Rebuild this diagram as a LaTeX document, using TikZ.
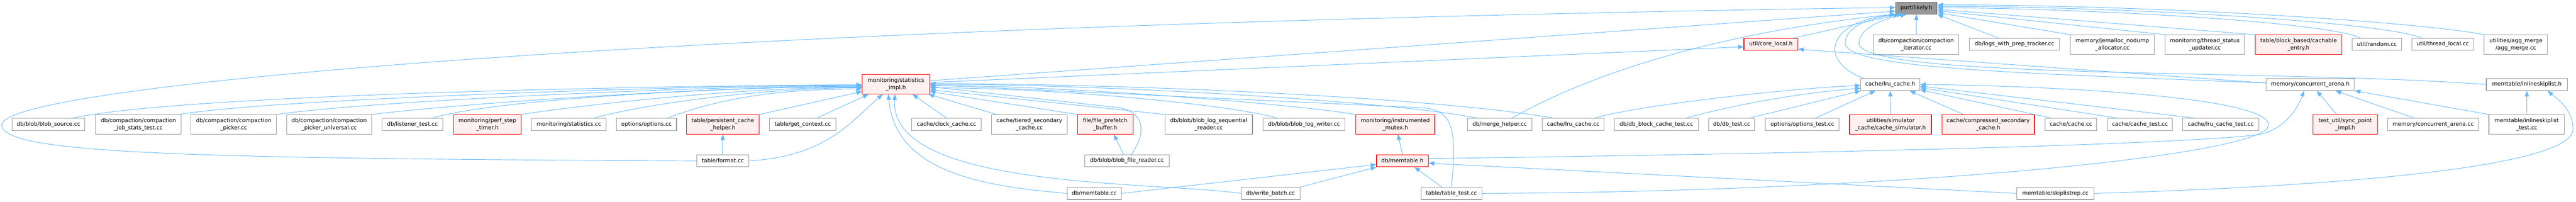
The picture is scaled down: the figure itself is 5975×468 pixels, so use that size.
\documentclass[tikz,border=0pt]{standalone}
\usepackage{fontspec}
\newfontfamily\graphfont{DejaVu Sans}
\usetikzlibrary{arrows.meta}
\definecolor{edgeblue}{HTML}{63B8FF}
\definecolor{nodegray}{HTML}{999999}
\definecolor{rootgray}{HTML}{666666}
\definecolor{redline}{HTML}{FF0000}
\definecolor{redfill}{HTML}{FFF0F0}
\tikzset{filebox/.style={draw=nodegray,fill=white,line width=1.3pt,inner sep=2pt,minimum height=28pt,align=center,font=\graphfont\fontsize{12.8}{17}\selectfont}}
\tikzset{twoline/.style={minimum height=45pt}}
\tikzset{redbox/.style={filebox,draw=redline,fill=redfill}}
\tikzset{rootbox/.style={filebox,draw=rootgray,fill=nodegray}}
\tikzset{incl/.style={draw=edgeblue,line width=1.1pt,-{Triangle[length=13pt,width=10pt]}}}
\begin{document}
\begin{tikzpicture}[x=1pt,y=-1pt]
    \useasboundingbox (0,0) rectangle (5975,468);
    \node[rootbox,minimum width=96pt] (likely) at (4445,19) {port/likely.h};
    \node[redbox,minimum width=125pt] (corelocal) at (4107.5,103) {util/core\_local.h};
    \node[filebox,twoline,minimum width=197pt] (compiter) at (4444.5,103.5) {db/compaction/compaction\\\_iterator.cc};
    \node[filebox,minimum width=209pt] (logsprep) at (4672.5,103) {db/logs\_with\_prep\_tracker.cc};
    \node[filebox,twoline,minimum width=195pt] (jemalloc) at (4899.5,103.5) {memory/jemalloc\_nodump\\\_allocator.cc};
    \node[filebox,twoline,minimum width=184pt] (threadstat) at (5114,103.5) {monitoring/thread\_status\\\_updater.cc};
    \node[redbox,twoline,minimum width=201pt] (cachable) at (5331.5,103.5) {table/block\_based/cachable\\\_entry.h};
    \node[filebox,minimum width=114pt] (random) at (5513,103) {util/random.cc};
    \node[filebox,minimum width=144pt] (threadlocal) at (5666,103) {util/thread\_local.cc};
    \node[filebox,twoline,minimum width=147pt] (aggmerge) at (5835.5,103.5) {utilities/agg\_merge\\/agg\_merge.cc};
    \node[redbox,twoline,minimum width=156pt] (statimpl) at (2078,195.5) {monitoring/statistics\\\_impl.h};
    \node[filebox,minimum width=137pt] (lruh) at (4384.5,196) {cache/lru\_cache.h};
    \node[filebox,minimum width=205pt] (arenah) at (5358.5,196) {memory/concurrent\_arena.h};
    \node[filebox,minimum width=188pt] (inlineh) at (5861,196) {memtable/inlineskiplist.h};
    \node[filebox,minimum width=169pt] (blobsrc) at (112.5,288.5) {db/blob/blob\_source.cc};
    \node[filebox,twoline,minimum width=198pt] (jobstats) at (321,288.5) {db/compaction/compaction\\\_job\_stats\_test.cc};
    \node[filebox,twoline,minimum width=198pt] (picker) at (542,288.5) {db/compaction/compaction\\\_picker.cc};
    \node[filebox,twoline,minimum width=197pt] (pickeruni) at (763.5,288.5) {db/compaction/compaction\\\_picker\_universal.cc};
    \node[filebox,minimum width=141pt] (listener) at (956.5,288.5) {db/listener\_test.cc};
    \node[redbox,twoline,minimum width=157pt] (perfstep) at (1130.5,288.5) {monitoring/perf\_step\\\_timer.h};
    \node[filebox,minimum width=173pt] (statscc) at (1319.5,288.5) {monitoring/statistics.cc};
    \node[filebox,minimum width=139pt] (optionscc) at (1499.5,288.5) {options/options.cc};
    \node[redbox,twoline,minimum width=169pt] (pcache) at (1676.5,288.5) {table/persistent\_cache\\\_helper.h};
    \node[filebox,minimum width=154pt] (getctx) at (1862,288.5) {table/get\_context.cc};
    \node[filebox,minimum width=161pt] (clock) at (2195.5,288.5) {cache/clock\_cache.cc};
    \node[filebox,twoline,minimum width=175pt] (tiered) at (2387.5,288.5) {cache/tiered\_secondary\\\_cache.cc};
    \node[redbox,twoline,minimum width=129pt] (prefetch) at (2563.5,288.5) {file/file\_prefetch\\\_buffer.h};
    \node[filebox,twoline,minimum width=203pt] (seqreader) at (2803.5,288.5) {db/blob/blob\_log\_sequential\\\_reader.cc};
    \node[filebox,minimum width=191pt] (logwriter) at (3024.5,288.5) {db/blob/blob\_log\_writer.cc};
    \node[redbox,twoline,minimum width=183pt] (mutex) at (3236.5,288.5) {monitoring/instrumented\\\_mutex.h};
    \node[filebox,minimum width=149pt] (mergehelper) at (3478.5,288.5) {db/merge\_helper.cc};
    \node[filebox,minimum width=144pt] (lrucc) at (3649,288.5) {cache/lru\_cache.cc};
    \node[filebox,minimum width=194pt] (blockcachetest) at (3842,288.5) {db/db\_block\_cache\_test.cc};
    \node[filebox,minimum width=107pt] (dbtest) at (4016.5,288.5) {db/db\_test.cc};
    \node[filebox,minimum width=171pt] (optionstest) at (4180.5,288.5) {options/options\_test.cc};
    \node[redbox,twoline,minimum width=190pt] (simulator) at (4385,288.5) {utilities/simulator\\\_cache/cache\_simulator.h};
    \node[redbox,twoline,minimum width=215pt] (compressed) at (4611.5,288.5) {cache/compressed\_secondary\\\_cache.h};
    \node[filebox,minimum width=119pt] (cachecc) at (4803.5,288.5) {cache/cache.cc};
    \node[filebox,minimum width=151pt] (cachetest) at (4963.5,288.5) {cache/cache\_test.cc};
    \node[filebox,minimum width=176pt] (lrutest) at (5151,288.5) {cache/lru\_cache\_test.cc};
    \node[redbox,twoline,minimum width=149pt] (syncpoint) at (5439.5,288.5) {test\_util/sync\_point\\\_impl.h};
    \node[filebox,minimum width=211pt] (arenacc) at (5643.5,288.5) {memory/concurrent\_arena.cc};
    \node[filebox,twoline,minimum width=175pt] (inlinetest) at (5860.5,288.5) {memtable/inlineskiplist\\\_test.cc};
    \node[filebox,minimum width=121pt] (format) at (1676.5,373) {table/format.cc};
    \node[filebox,minimum width=196pt] (blobreader) at (2614,373) {db/blob/blob\_file\_reader.cc};
    \node[redbox,minimum width=120pt] (memtableh) at (3253,373) {db/memtable.h};
    \node[filebox,minimum width=126pt] (memtablecc) at (2538,448.5) {db/memtable.cc};
    \node[filebox,minimum width=136pt] (writebatch) at (2947,448.5) {db/write\_batch.cc};
    \node[filebox,minimum width=141pt] (tabletest) at (3366.5,448.5) {table/table\_test.cc};
    \node[filebox,minimum width=179pt] (skiplistrep) at (4767.5,448.5) {memtable/skiplistrep.cc};
    \coordinate (loopturn) at (4,290);
    \draw[incl] ([xshift=-30pt]blobsrc.north east) .. controls +(280,-60) and +(-290,0) .. (statimpl.181);
    \draw[incl] ([xshift=-5pt]jobstats.north east) .. controls +(250,-40) and +(-300,0) .. (statimpl.181);
    \draw[incl] (picker.north east) .. controls +(250,-35) and +(-300,0) .. (statimpl.182);
    \draw[incl] (pickeruni.north east) .. controls +(250,-30) and +(-300,0) .. (statimpl.183);
    \draw[incl] ([xshift=-25pt]listener.north east) .. controls +(150,-45) and +(-300,0) .. (statimpl.184);
    \draw[incl] (perfstep.north east) .. controls +(200,-30) and +(-250,0) .. (statimpl.185);
    \draw[incl] ([xshift=-30pt]statscc.north east) .. controls +(150,-40) and +(-200,0) .. (statimpl.186);
    \draw[incl] ([xshift=-22pt]optionscc.north east) .. controls +(120,-45) and +(-200,0) .. (statimpl.188);
    \draw[incl] (pcache.north east) -- (statimpl.192);
    \draw[incl] ([xshift=-45pt]getctx.north east) -- (statimpl.200);
    \draw[incl] (format.east) .. controls +(180,-10) and +(-70,60) .. (statimpl.217);
    \draw[incl] (format.north) -- (pcache.south);
    \draw[incl] (format.west) .. controls (400,368) and (6,355) .. (loopturn) .. controls (0,200) and (1500,60) .. (likely.178);
    \draw[incl] (memtablecc.west) to[out=175,in=-85] (statimpl.233);
    \draw[incl] (writebatch.west) .. controls (2680,420) and (2060,440) .. (statimpl.265);
    \draw[incl] (clock.north) -- (statimpl.-31);
    \draw[incl] ([xshift=12pt]tiered.north west) -- (statimpl.-17);
    \draw[incl] (prefetch.north west) -- (statimpl.-12);
    \draw[incl] (seqreader.north west) -- (statimpl.-9);
    \draw[incl] ([xshift=34pt]logwriter.north west) .. controls +(-100,-30) and +(300,0) .. (statimpl.-6);
    \draw[incl] ([xshift=-8pt]blobreader.north) -- ([xshift=20pt]prefetch.south);
    \draw[incl] ([xshift=10pt]blobreader.north) .. controls (2665,300) and (2650,252) .. (2580,248) -- (statimpl.-4);
    \draw[incl] (mutex.north west) .. controls +(-150,-25) and +(300,0) .. (statimpl.-2);
    \draw[incl] ([xshift=23pt]mergehelper.north west) .. controls +(-200,-40) and +(400,0) .. (statimpl.0);
    \draw[incl] ([xshift=26pt]lrucc.north west) .. controls +(-250,-45) and +(500,0) .. (statimpl.1);
    \draw[incl] (tabletest.north) .. controls (3380,300) and (3370,255) .. (3300,250) -- (statimpl.-1);
    \draw[incl] (statimpl.6) -- (likely.188);
    \draw[incl] (statimpl.3) -- (corelocal.185);
    \draw[incl] ([xshift=28pt]mergehelper.north) .. controls +(250,-140) and +(-300,30) .. (likely.196);
    \draw[incl] ([xshift=-12pt]corelocal.north east) -- (likely.200);
    \draw[incl] ([xshift=6pt]lruh.north west) .. controls (4215,140) and (4240,50) .. (likely.south west);
    \draw[incl] (compiter.north) -- (likely.south);
    \draw[incl] ([xshift=-37pt]logsprep.north) -- (likely.south east);
    \draw[incl] (jemalloc.north west) -- (likely.-12);
    \draw[incl] (threadstat.north west) -- (likely.-7);
    \draw[incl] (cachable.north west) -- (likely.-3);
    \draw[incl] ([xshift=20pt]random.north west) .. controls +(-80,-40) and +(300,0) .. (likely.1);
    \draw[incl] ([xshift=25pt]threadlocal.north west) .. controls +(-100,-40) and +(400,0) .. (likely.5);
    \draw[incl] (aggmerge.north west) .. controls +(-150,-30) and +(500,0) .. (likely.9);
    \draw[incl] ([xshift=-23pt]lrucc.north east) .. controls +(100,-30) and +(-150,5) .. (lruh.182);
    \draw[incl] ([xshift=-30pt]blockcachetest.north east) .. controls +(150,-40) and +(-120,10) .. (lruh.187);
    \draw[incl] ([xshift=-13pt]dbtest.north east) -- (lruh.192);
    \draw[incl] ([xshift=-56pt]optionstest.north east) -- (lruh.203);
    \draw[incl] (simulator.north) -- (lruh.south);
    \draw[incl] ([xshift=51pt]compressed.north west) -- (lruh.-18);
    \draw[incl] ([xshift=15pt]cachecc.north west) -- (lruh.-10);
    \draw[incl] ([xshift=24pt]cachetest.north west) -- (lruh.-6);
    \draw[incl] ([xshift=30pt]lrutest.north west) -- (lruh.-3);
    \draw[incl] (tabletest.east) .. controls (4400,445) and (5262,360) .. (5262,290) .. controls (5262,220) and (4700,198) .. (lruh.0);
    \draw[incl] (memtablecc.east) -- (memtableh.188);
    \draw[incl] (writebatch.north east) -- (memtableh.south west);
    \draw[incl] ([xshift=-22pt]tabletest.north) -- ([xshift=28pt]memtableh.south);
    \draw[incl] (skiplistrep.west) -- (memtableh.-5);
    \draw[incl] (memtableh.north) -- ([xshift=6pt]mutex.south);
    \draw[incl] (memtableh.5) .. controls (4500,352) and (5100,330) .. (5240,312) .. controls (5300,300) and (5330,250) .. (arenah.-134);
    \draw[incl] (skiplistrep.east) .. controls (5500,430) and (5968,380) .. (5968,300) .. controls (5968,255) and (5935,232) .. (inlineh.-17);
    \draw[incl] ([xshift=-20pt]syncpoint.north) -- (arenah.-44);
    \draw[incl] ([xshift=-43pt]arenacc.north) -- (arenah.-14);
    \draw[incl] (inlinetest.north west) -- (arenah.-8);
    \draw[incl] (inlinetest.north) -- (inlineh.south);
    \draw[incl] (arenah.178) -- (corelocal.-10);
    \draw[incl] (arenah.178) .. controls (4700,170) and (4280,160) .. (4280,100) .. controls (4280,65) and (4330,40) .. (likely.205);
    \draw[incl] (inlineh.west) .. controls (5300,160) and (4310,185) .. (4312,100) .. controls (4312,68) and (4360,45) .. (likely.212);
\end{tikzpicture}
\end{document}
